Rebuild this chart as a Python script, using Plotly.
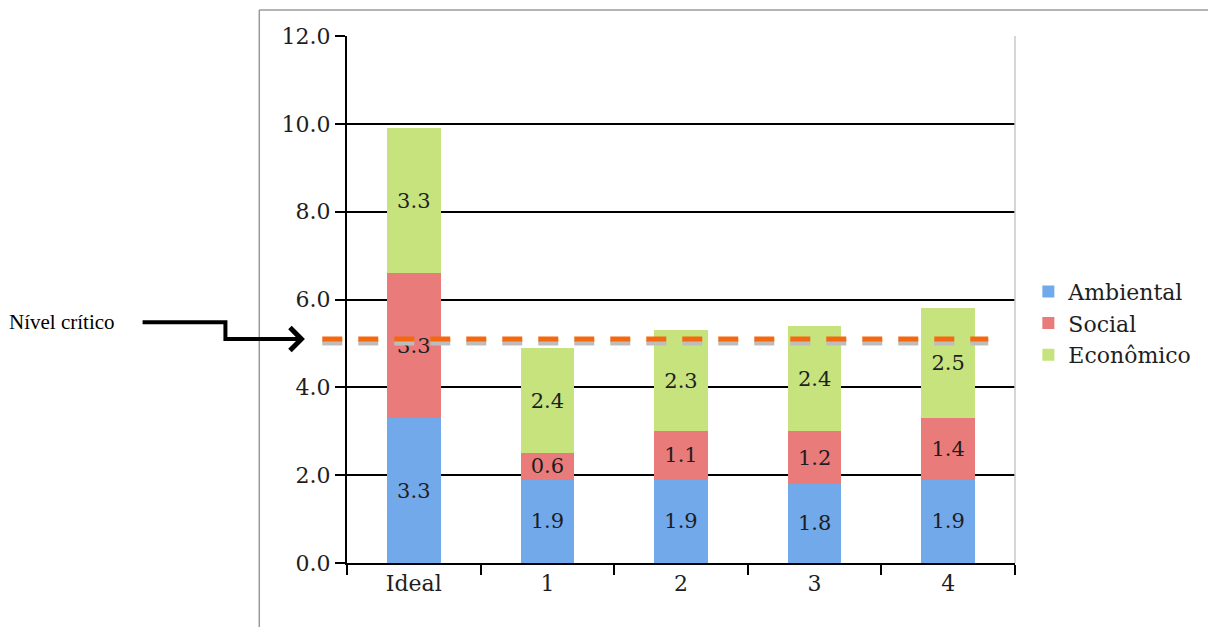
import plotly.graph_objects as go

categories = ["Ideal", "1", "2", "3", "4"]
ambiental = [3.3, 1.9, 1.9, 1.8, 1.9]
social = [3.3, 0.6, 1.1, 1.2, 1.4]
economico = [3.3, 2.4, 2.3, 2.4, 2.5]
series_names = ["Ambiental", "Social", "Econômico"]
critical_level = 5.1
critical_label = "Nível crítico"
y_ticks = [0, 2, 4, 6, 8, 10, 12]

colors = ["#72a9ea", "#ea7b7b", "#c6e37e"]
serif = "DejaVu Serif"

fig = go.Figure()
for name, vals, col in zip(series_names, [ambiental, social, economico], colors):
    fig.add_trace(go.Bar(
        x=categories, y=vals, name=name,
        marker=dict(color=col, line=dict(width=0)),
        text=[f"{v:.1f}" for v in vals],
        textposition="inside", insidetextanchor="middle", textangle=0,
        constraintext="none",
        textfont=dict(family=serif, size=21, color="#1e1e1e"),
    ))

shapes = []
# outer frame
shapes.append(dict(type="line", xref="paper", yref="paper", x0=-0.1313, x1=-0.1313, y0=-0.2, y1=1.0493,
                   line=dict(color="#9a9a9a", width=1.5)))
shapes.append(dict(type="line", xref="paper", yref="paper", x0=-0.1313, x1=1.3, y0=1.0493, y1=1.0493,
                   line=dict(color="#9a9a9a", width=1.5)))
# right plot border
shapes.append(dict(type="line", xref="paper", yref="paper", x0=1, x1=1, y0=0, y1=1,
                   line=dict(color="#c8c8c8", width=1.5)))
# critical line shadow
shapes.append(dict(type="line", xref="paper", yref="y", ysizemode="pixel", yanchor=critical_level,
                   x0=-0.037, x1=0.96, y0=-4, y1=-4,
                   line=dict(color="#bdbdbd", width=5, dash="20px,16px")))
# critical line
shapes.append(dict(type="line", xref="paper", yref="y", x0=-0.037, x1=0.96,
                   y0=critical_level, y1=critical_level,
                   line=dict(color="#f4680f", width=5, dash="20px,16px")))
# stepped arrow shaft
shapes.append(dict(type="path", xref="paper", yref="y",
                   path=f"M -0.306 {critical_level+0.38} L -0.182 {critical_level+0.38} L -0.182 {critical_level} L -0.07 {critical_level}",
                   line=dict(color="black", width=4)))

fig.update_layout(
    width=1208, height=627,
    margin=dict(l=347, r=191, t=36, b=64),
    paper_bgcolor="white", plot_bgcolor="white",
    barmode="stack", bargap=0.6,
    font=dict(family=serif, size=22, color="#1e1e1e"),
    shapes=shapes,
    legend=dict(x=1.02, y=0.455, xanchor="left", yanchor="middle", traceorder="normal",
                font=dict(family=serif, size=22, color="#1e1e1e"), itemwidth=30,
                tracegroupgap=2, bgcolor="rgba(0,0,0,0)"),
    annotations=[
        dict(xref="paper", yref="y", x=-0.509, y=critical_level + 0.38, text=critical_label,
             showarrow=False, xanchor="left", yanchor="middle",
             font=dict(family="Liberation Serif", size=21, color="black")),
        dict(xref="paper", yref="y", x=-0.063, y=critical_level, ax=-20, ay=0,
             axref="pixel", ayref="pixel", text="", showarrow=True, arrowhead=4, arrowsize=1.1,
             arrowwidth=4, arrowcolor="black"),
    ],
    xaxis=dict(showline=True, linecolor="black", linewidth=2, ticks="outside", tickson="boundaries",
               ticklen=10, tickcolor="black", tickwidth=2, showgrid=False,
               tickfont=dict(family=serif, size=22, color="#1e1e1e")),
    yaxis=dict(range=[0, 12], tickvals=y_ticks, tickformat=".1f", showline=True, linecolor="black",
               linewidth=2, ticks="outside", ticklen=10, tickcolor="black", tickwidth=2,
               showgrid=True, gridcolor="black", gridwidth=1.5, zeroline=False,
               tickfont=dict(family=serif, size=22, color="#1e1e1e")),
)

fig.write_html("out.html")
